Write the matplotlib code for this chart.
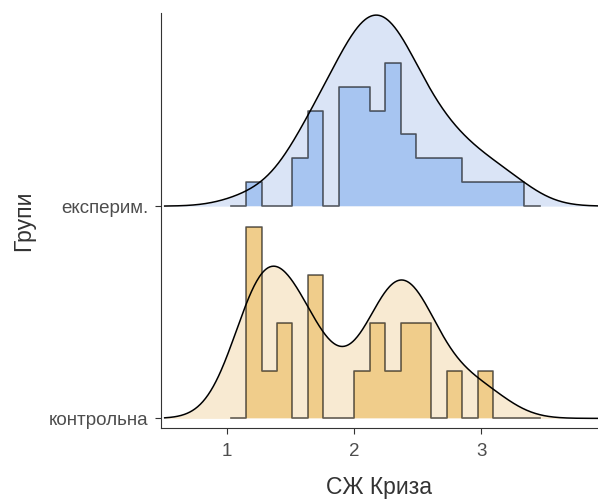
import numpy as np
import matplotlib.pyplot as plt

plt.rcParams['font.family'] = ['Liberation Sans', 'DejaVu Sans']

groups = ["контрольна", "експерим."]
x_title = "СЖ Криза"
y_title = "Групи"

# estimated observations (positions read off the histogram bins)
control = [1.212, 1.235, 1.245, 1.260, 1.310, 1.410, 1.420,
           1.645, 1.650, 1.655, 2.115, 2.220, 2.235, 2.350,
           2.420, 2.440, 2.495, 2.505, 2.792, 3.035]
experim = [1.212, 1.577, 1.577, 1.698, 1.698, 1.698, 1.698,
           1.941, 1.941, 1.941, 1.941, 1.941, 2.063, 2.063, 2.063, 2.063, 2.063,
           2.184, 2.184, 2.184, 2.184,
           2.306, 2.306, 2.306, 2.306, 2.306, 2.306,
           2.427, 2.427, 2.427, 2.549, 2.549, 2.670, 2.670, 2.792, 2.792,
           2.913, 3.035, 3.156, 3.278]

fill_dens = ["#f8ead2", "#dae4f6"]
fill_bars = ["#f0cd8b", "#a7c5f1"]


def bw_nrd0(v):
    v = np.asarray(v)
    q75, q25 = np.percentile(v, [75, 25])
    lo = min(np.std(v, ddof=1), (q75 - q25) / 1.34)
    return 0.9 * lo * len(v) ** -0.2


def kde(v, grid, bw):
    v = np.asarray(v)[:, None]
    return np.exp(-0.5 * ((grid - v) / bw) ** 2).sum(0) / (len(v) * bw * np.sqrt(2 * np.pi))


data = [control, experim]
bw = np.mean([bw_nrd0(d) for d in data])
grid = np.linspace(0.51, 3.92, 500)
dens = [kde(d, grid, bw) for d in data]
dmax = max(d.max() for d in dens)

lo_all = min(min(d) for d in data)
hi_all = max(max(d) for d in data)
width = (hi_all - lo_all) / 17
edges = lo_all - 1.5 * width + width * np.arange(21)
hists = [np.histogram(d, bins=edges)[0] / (len(d) * width) for d in data]
hmax = max(h.max() for h in hists)

scale = 0.9
fig, ax = plt.subplots(figsize=(5.98, 4.99), dpi=100)
fig.subplots_adjust(left=0.269, right=1.0, top=0.974, bottom=0.142)

for i in range(2):
    y = dens[i] / dmax * scale + i
    ax.fill_between(grid, i, y, color=fill_dens[i], lw=0, zorder=1)
    h = hists[i] / hmax * scale + i
    hy = np.r_[h, h[-1]]
    ax.fill_between(edges, i, hy, step="post", color=fill_bars[i], lw=0, zorder=2)
    ax.step(edges, hy, where="post", color="black", alpha=0.6, lw=1.2, zorder=3)
    ax.plot(grid, y, color="black", lw=1.1, zorder=4)

ax.set_xlim(0.48, 3.92)
ax.set_ylim(-0.046, 1.91)
ax.set_xticks([1, 2, 3])
ax.set_yticks([0, 1])
ax.set_yticklabels(groups)
ax.spines[["top", "right"]].set_visible(False)
for s in ["left", "bottom"]:
    ax.spines[s].set_color("#333333")
ax.tick_params(colors="#333333", labelcolor="#4d4d4d", labelsize=13.5, length=4, pad=5)
ax.tick_params(axis="x", pad=7)
ax.set_xlabel(x_title, fontsize=16.5, color="#333333", labelpad=11)
ax.set_ylabel(y_title, fontsize=16.5, color="#333333", labelpad=10)

plt.savefig("out.png", dpi=100)
